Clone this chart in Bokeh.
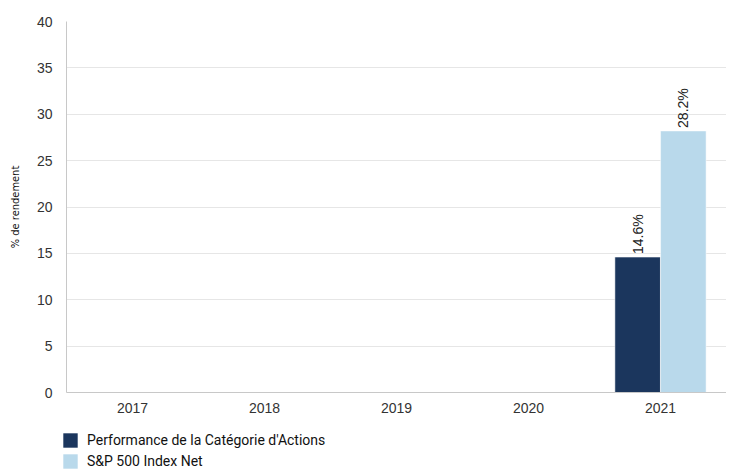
import math
from bokeh.plotting import figure
from bokeh.layouts import column
from bokeh.models import ColumnDataSource, FactorRange, Range1d, Legend, LegendItem, SingleIntervalTicker
from bokeh.transform import dodge
from bokeh.core.properties import value
from bokeh.embed import file_html
from bokeh.resources import INLINE

years = ["2017", "2018", "2019", "2020", "2021"]
categorie = [float("nan"), float("nan"), float("nan"), float("nan"), 14.6]
sp500 = [float("nan"), float("nan"), float("nan"), float("nan"), 28.2]
series_names = ["Performance de la Catégorie d'Actions", "S&P 500 Index Net"]
colors = ["#1b365d", "#b9d9eb"]

src = ColumnDataSource(dict(year=years, a=categorie, b=sp500))

def label_source(vals):
    xs = [y for y, v in zip(years, vals) if not math.isnan(v)]
    vs = [v for v in vals if not math.isnan(v)]
    return ColumnDataSource(dict(year=xs, v=vs, t=[f"{v:.1f}%" for v in vs]))

p = figure(frame_width=660, frame_height=371, x_range=FactorRange(*years, range_padding=0),
           y_range=Range1d(0, 40), output_backend="svg", toolbar_location=None,
           min_border_left=66, min_border_right=0, min_border_top=21, min_border_bottom=31)
p.outline_line_color = None
p.background_fill_color = "white"

off = 0.173
w = 0.345
r1 = p.vbar(x=dodge("year", -off, range=p.x_range), top="a", width=w, bottom=0,
            source=src, fill_color=colors[0], line_color="white", line_width=0.5)
r2 = p.vbar(x=dodge("year", off, range=p.x_range), top="b", width=w, bottom=0,
            source=src, fill_color=colors[1], line_color="white", line_width=0.5)

for vals, o in ((categorie, -off), (sp500, off)):
    p.text(x=dodge("year", o, range=p.x_range), y="v", text="t", source=label_source(vals),
           angle=math.pi / 2, text_align="left", text_baseline="middle", y_offset=-3,
           text_font=value("Liberation Sans"), text_font_size="14px", text_color="#222222")

p.yaxis.ticker = SingleIntervalTicker(interval=5)
p.yaxis.axis_label = "% de rendement"
p.yaxis.axis_label_text_font = "DejaVu Sans Condensed"
p.yaxis.axis_label_text_font_style = "normal"
p.yaxis.axis_label_text_font_size = "11px"
p.yaxis.axis_label_text_color = "#111111"
p.yaxis.axis_label_standoff = 12
for ax in (p.xaxis, p.yaxis):
    ax.major_label_text_font = "Liberation Sans"
    ax.major_label_text_font_size = "14px"
    ax.major_label_text_color = "#333333"
    ax.major_tick_line_color = None
    ax.minor_tick_line_color = None
    ax.axis_line_color = "#c8c8c8"
p.xaxis.major_label_standoff = 4
p.yaxis.major_label_standoff = 8
p.xgrid.grid_line_color = None
p.ygrid.grid_line_color = "#e6e6e6"

# legend strip below the chart (legend-only renderers hold no visible data)
leg = figure(frame_width=726, frame_height=47, x_range=Range1d(0, 1), y_range=Range1d(0, 1),
             x_axis_type=None, y_axis_type=None, output_backend="svg", toolbar_location=None,
             min_border_left=0, min_border_right=0, min_border_top=0, min_border_bottom=0)
leg.outline_line_color = None
leg.grid.visible = False
nan = float("nan")
g1 = leg.vbar(x=[nan], top=[nan], width=0.1, fill_color=colors[0], line_color=None)
g2 = leg.vbar(x=[nan], top=[nan], width=0.1, fill_color=colors[1], line_color=None)
legend = Legend(items=[LegendItem(label=series_names[0], renderers=[g1]),
                       LegendItem(label=series_names[1], renderers=[g2])],
                orientation="vertical", location=(61, 0),
                label_text_font="Roboto", label_text_font_size="14px", label_text_color="#111111",
                glyph_width=18, glyph_height=18, label_height=18, spacing=3, padding=0,
                margin=0, label_standoff=8, border_line_color=None, background_fill_alpha=0)
leg.add_layout(legend, "center")

open("out.html", "w").write(file_html(column(p, leg, spacing=0), INLINE))
